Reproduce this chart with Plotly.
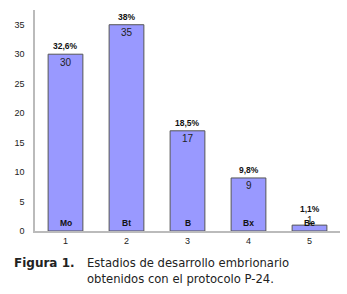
import plotly.graph_objects as go

categories = [1, 2, 3, 4, 5]
counts = [30, 35, 17, 9, 1]
percent_labels = ["32,6%", "38%", "18,5%", "9,8%", "1,1%"]
stage_names = ["Mo", "Bt", "B", "Bx", "Be"]
y_ticks = [0, 5, 10, 15, 20, 25, 30, 35]

fig = go.Figure()
fig.add_trace(go.Bar(
    x=categories, y=counts, width=0.57,
    marker=dict(color="#9999FF", line=dict(color="#555555", width=1)),
    hoverinfo="skip",
))

font = "Liberation Sans, Arial, sans-serif"
ann = []
for c, v, p, s in zip(categories, counts, percent_labels, stage_names):
    vy = max(v - 1.36, 1.7)
    ann.append(dict(x=c, y=vy, xref="x", yref="y", text=str(v), showarrow=False,
                    yanchor="middle", font=dict(family=font, size=10, color="#222")))
    py = max(v, 2.3)
    ann.append(dict(x=c, y=py, xref="x", yref="y", text="<b>%s</b>" % p, showarrow=False,
                    yanchor="bottom", yshift=1, font=dict(family=font, size=8.5, color="#111")))
    ann.append(dict(x=c, y=0, xref="x", yref="y", text="<b>%s</b>" % s, showarrow=False,
                    yanchor="bottom", yshift=1, font=dict(family=font, size=8.5, color="#111")))

cap_font = "DejaVu Sans, Verdana, sans-serif"
caps = [
    (12, 263, "<b>Figura 1.</b>", 12),
    (85, 263, "Estadios de desarrollo embrionario", 11.6),
    (85, 279, "obtenidos con el protocolo P-24.", 11.6),
]

W, H = 347, 294
ml, mr, mt, mb = 35, 7, 10, 63
pw, ph = W - ml - mr, H - mt - mb
for px, py_, txt, sz in caps:
    ann.append(dict(x=(px - ml) / pw, y=(H - mb - py_) / ph, xref="paper", yref="paper",
                    text=txt, showarrow=False, xanchor="left", yanchor="middle",
                    font=dict(family=cap_font, size=sz, color="#222")))

fig.update_layout(
    width=W, height=H,
    margin=dict(l=ml, r=mr, t=mt, b=mb),
    paper_bgcolor="white", plot_bgcolor="white",
    showlegend=False,
    annotations=ann,
    xaxis=dict(range=[0.5, 5.5], tickvals=categories, showgrid=False, zeroline=False,
               showline=True, linecolor="#BBBBBB", linewidth=1.5, ticks="",
               tickfont=dict(family=font, size=9, color="#222"), fixedrange=True),
    yaxis=dict(range=[0, 37.5], tickvals=y_ticks, showgrid=False, zeroline=False,
               showline=True, linecolor="#BBBBBB", linewidth=1.5, ticks="",
               ticklabelstandoff=7,
               tickfont=dict(family=font, size=9, color="#222"), fixedrange=True),
)

fig.write_html("out.html", config={"displayModeBar": False},
               post_script="document.body.style.margin='0';document.body.style.padding='0';")
